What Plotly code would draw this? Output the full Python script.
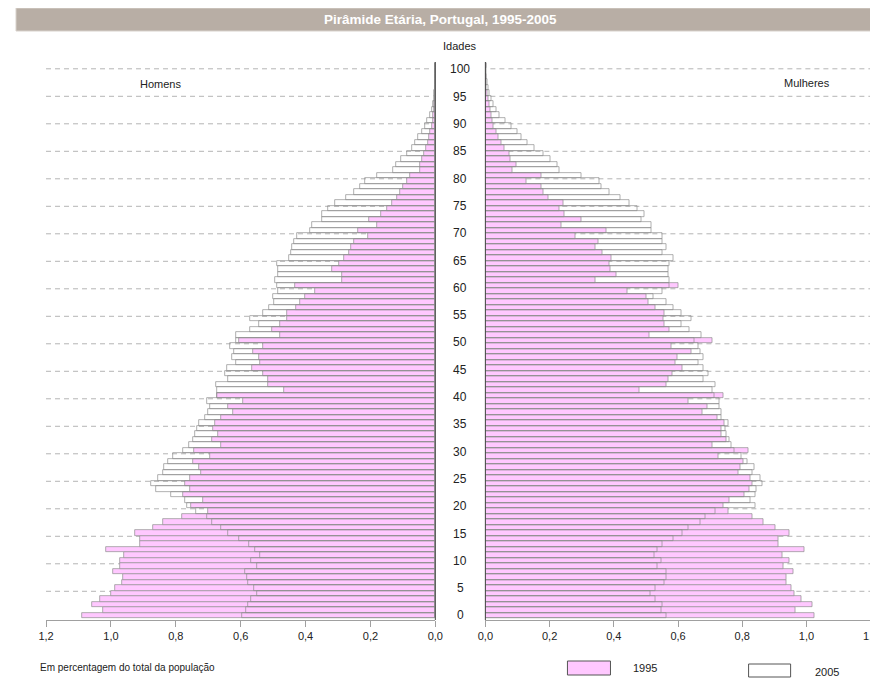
import plotly.graph_objects as go

ages = list(range(0, 101))

men_1995 = [1.09, 1.024, 1.057, 1.034, 1.00, 0.988, 0.967, 0.962, 0.995, 0.972,
            0.972, 0.96, 1.015, 0.91, 0.91, 0.926, 0.871, 0.838, 0.78, 0.70,
            0.753, 0.717, 0.777, 0.756, 0.772, 0.756, 0.723, 0.727, 0.746, 0.694,
            0.744, 0.662, 0.689, 0.669, 0.684, 0.679, 0.662, 0.624, 0.638, 0.592,
            0.672, 0.466, 0.517, 0.517, 0.53, 0.566, 0.54, 0.545, 0.561, 0.53,
            0.604, 0.478, 0.504, 0.478, 0.458, 0.456, 0.429, 0.417, 0.401, 0.372,
            0.432, 0.288, 0.288, 0.319, 0.298, 0.283, 0.267, 0.26, 0.252, 0.206,
            0.237, 0.18, 0.203, 0.168, 0.149, 0.134, 0.118, 0.108, 0.10, 0.087,
            0.077, 0.048, 0.048, 0.041, 0.035, 0.028, 0.024, 0.019, 0.015, 0.011,
            0.008, 0.006, 0.004, 0.003, 0.002, 0.0015, 0.001, 0.001, 0.0008, 0.0005,
            0.0005]

men_2005 = [0.597, 0.582, 0.576, 0.568, 0.55, 0.56, 0.576, 0.58, 0.588, 0.55,
            0.568, 0.54, 0.556, 0.573, 0.604, 0.638, 0.661, 0.689, 0.705, 0.738,
            0.766, 0.772, 0.816, 0.861, 0.877, 0.854, 0.838, 0.835, 0.823, 0.81,
            0.777, 0.758, 0.748, 0.741, 0.736, 0.727, 0.71, 0.70, 0.694, 0.705,
            0.674, 0.672, 0.677, 0.638, 0.648, 0.643, 0.615, 0.628, 0.62, 0.633,
            0.615, 0.615, 0.571, 0.545, 0.571, 0.532, 0.514, 0.496, 0.50, 0.484,
            0.487, 0.494, 0.484, 0.484, 0.487, 0.45, 0.444, 0.442, 0.435, 0.427,
            0.386, 0.379, 0.349, 0.349, 0.331, 0.309, 0.275, 0.25, 0.231, 0.216,
            0.18, 0.131, 0.12, 0.106, 0.087, 0.072, 0.062, 0.052, 0.042, 0.033,
            0.025, 0.017, 0.011, 0.007, 0.005, 0.003, 0.002, 0.0015, 0.001, 0.0008,
            0.0005]

women_1995 = [1.024, 0.967, 1.019, 0.985, 0.962, 0.952, 0.936, 0.936, 0.959, 0.929,
              0.947, 0.924, 0.993, 0.913, 0.913, 0.947, 0.903, 0.867, 0.83, 0.758,
              0.741, 0.759, 0.808, 0.823, 0.833, 0.826, 0.787, 0.795, 0.802, 0.725,
              0.82, 0.708, 0.751, 0.736, 0.736, 0.744, 0.723, 0.676, 0.691, 0.631,
              0.741, 0.48, 0.563, 0.569, 0.581, 0.614, 0.592, 0.597, 0.641, 0.579,
              0.708, 0.512, 0.573, 0.558, 0.553, 0.556, 0.53, 0.507, 0.501, 0.442,
              0.602, 0.343, 0.408, 0.388, 0.386, 0.391, 0.363, 0.343, 0.353, 0.281,
              0.376, 0.237, 0.298, 0.247, 0.231, 0.242, 0.195, 0.182, 0.175, 0.127,
              0.173, 0.085, 0.096, 0.079, 0.075, 0.06, 0.05, 0.041, 0.034, 0.026,
              0.021, 0.018, 0.014, 0.011, 0.008, 0.006, 0.004, 0.003, 0.002, 0.0015,
              0.002]

women_2005 = [0.563, 0.547, 0.55, 0.53, 0.514, 0.53, 0.559, 0.564, 0.564, 0.535,
              0.547, 0.525, 0.535, 0.552, 0.586, 0.614, 0.631, 0.669, 0.684, 0.717,
              0.84, 0.825, 0.842, 0.844, 0.864, 0.857, 0.83, 0.838, 0.816, 0.797,
              0.775, 0.765, 0.761, 0.751, 0.748, 0.756, 0.736, 0.736, 0.73, 0.73,
              0.712, 0.707, 0.717, 0.679, 0.696, 0.679, 0.662, 0.679, 0.669, 0.664,
              0.651, 0.674, 0.636, 0.609, 0.641, 0.609, 0.586, 0.563, 0.522, 0.55,
              0.573, 0.573, 0.569, 0.569, 0.573, 0.584, 0.552, 0.563, 0.552, 0.552,
              0.517, 0.517, 0.486, 0.496, 0.473, 0.448, 0.419, 0.386, 0.36, 0.355,
              0.298, 0.229, 0.223, 0.203, 0.18, 0.154, 0.131, 0.113, 0.100, 0.08,
              0.062, 0.045, 0.033, 0.025, 0.018, 0.013, 0.009, 0.006, 0.004, 0.003,
              0.003]

x_tickvals = [0, 0.2, 0.4, 0.6, 0.8, 1.0, 1.2]
x_ticktext = ["0,0", "0,2", "0,4", "0,6", "0,8", "1,0", "1,2"]
age_labels = list(range(0, 101, 5))

OFF = 8
W, H = 878, 685 - OFF
# observed capture transform: image_x ~= 8.15 + 0.981 * page_x ; image_y = page_y
SX, BX = 0.981, 8.15
FONT = "Liberation Sans, Arial, sans-serif"
PINK = "#ffc8ff"
EDGE = "#8e8e8e"


def px(x):
    return max(0.0, min(1.0, ((x - BX) / SX - OFF) / W))


def py(y):
    return 1 - (y - OFF) / H


fig = go.Figure()

fig.add_trace(go.Bar(y=ages, x=men_1995, orientation="h", width=1,
                     marker=dict(color=PINK, line=dict(color=EDGE, width=0.7)),
                     xaxis="x", yaxis="y", name="1995"))
fig.add_trace(go.Bar(y=ages, x=men_2005, orientation="h", width=1,
                     marker=dict(color="rgba(255,255,255,0)", line=dict(color=EDGE, width=0.7)),
                     xaxis="x", yaxis="y", name="2005"))
fig.add_trace(go.Bar(y=ages, x=women_1995, orientation="h", width=1,
                     marker=dict(color=PINK, line=dict(color=EDGE, width=0.7)),
                     xaxis="x2", yaxis="y", name="1995"))
fig.add_trace(go.Bar(y=ages, x=women_2005, orientation="h", width=1,
                     marker=dict(color="rgba(255,255,255,0)", line=dict(color=EDGE, width=0.7)),
                     xaxis="x2", yaxis="y", name="2005"))

axis_common = dict(tickvals=x_tickvals, ticktext=x_ticktext, ticks="outside", ticklen=6,
                   tickcolor="#a0a0a0", showline=True, linecolor="#a0a0a0", linewidth=1,
                   showgrid=False, zeroline=False, anchor="y",
                   tickfont=dict(family=FONT, size=11, color="#222"))

fig.update_layout(
    width=W, height=H,
    margin=dict(l=0, r=0, t=0, b=0),
    paper_bgcolor="white", plot_bgcolor="white",
    showlegend=False, barmode="overlay", bargap=0,
    xaxis=dict(domain=[px(46), px(435)], range=[1.2, 0], **axis_common),
    xaxis2=dict(domain=[px(485), px(870)], range=[0, 1.2], **axis_common),
    yaxis=dict(domain=[py(620), py(60)], range=[-0.82, 101], showticklabels=False,
               showgrid=False, zeroline=False, showline=False, ticks=""),
)

shapes = []
shapes.append(dict(type="rect", xref="paper", yref="paper", x0=px(8), x1=px(870),
                   y0=py(31), y1=py(8), fillcolor="#b8aea5", line=dict(color="#d8d2cc", width=1),
                   layer="above"))
for a in age_labels:
    if a == 0:
        continue
    yv = a - 0.6
    for x0, x1 in ((46, 430), (490, 870)):
        shapes.append(dict(type="line", xref="paper", yref="y", x0=px(x0), x1=px(x1),
                           y0=yv, y1=yv, line=dict(color="#b4b4b4", width=1, dash="5px,4px"),
                           layer="below"))
for xv in (435, 485):
    shapes.append(dict(type="line", xref="paper", yref="paper", x0=px(xv), x1=px(xv),
                       y0=py(620), y1=py(62), line=dict(color="#444", width=1), layer="above"))
shapes.append(dict(type="rect", xref="paper", yref="paper", x0=px(567), x1=px(610),
                   y0=py(675), y1=py(661), fillcolor=PINK, line=dict(color="#555", width=1)))
shapes.append(dict(type="rect", xref="paper", yref="paper", x0=px(748), x1=px(790),
                   y0=py(677), y1=py(664), fillcolor="white", line=dict(color="#555", width=1)))

annotations = []
annotations.append(dict(text="<b>Pirâmide Etária, Portugal, 1995-2005</b>", x=px(440), y=py(19.5),
                        xref="paper", yref="paper", showarrow=False, xanchor="center", yanchor="middle",
                        font=dict(family=FONT, size=13.5, color="white")))
annotations.append(dict(text="Idades", x=px(460), y=py(46), xref="paper", yref="paper",
                        showarrow=False, xanchor="center", yanchor="middle",
                        font=dict(family=FONT, size=11, color="#222")))
for a in age_labels:
    annotations.append(dict(text=str(a), x=px(460), y=a * 0.993, xref="paper", yref="y",
                            showarrow=False, xanchor="center", yanchor="middle",
                            font=dict(family=FONT, size=12, color="#222")))
annotations.append(dict(text="Homens", x=px(160), y=py(84), xref="paper", yref="paper",
                        showarrow=False, xanchor="center", yanchor="middle",
                        font=dict(family=FONT, size=11, color="#222")))
annotations.append(dict(text="Mulheres", x=px(806), y=py(83), xref="paper", yref="paper",
                        showarrow=False, xanchor="center", yanchor="middle",
                        font=dict(family=FONT, size=11, color="#222")))
annotations.append(dict(text="Em percentagem do total da população", x=px(38), y=py(667),
                        xref="paper", yref="paper", showarrow=False, xanchor="left", yanchor="middle",
                        font=dict(family=FONT, size=10, color="#222")))
annotations.append(dict(text="1995", x=px(631), y=py(668), xref="paper", yref="paper",
                        showarrow=False, xanchor="left", yanchor="middle",
                        font=dict(family=FONT, size=11, color="#222")))
annotations.append(dict(text="2005", x=px(812), y=py(672), xref="paper", yref="paper",
                        showarrow=False, xanchor="left", yanchor="middle",
                        font=dict(family=FONT, size=11, color="#222")))

fig.update_layout(shapes=shapes, annotations=annotations)
fig.write_html("out.html")
